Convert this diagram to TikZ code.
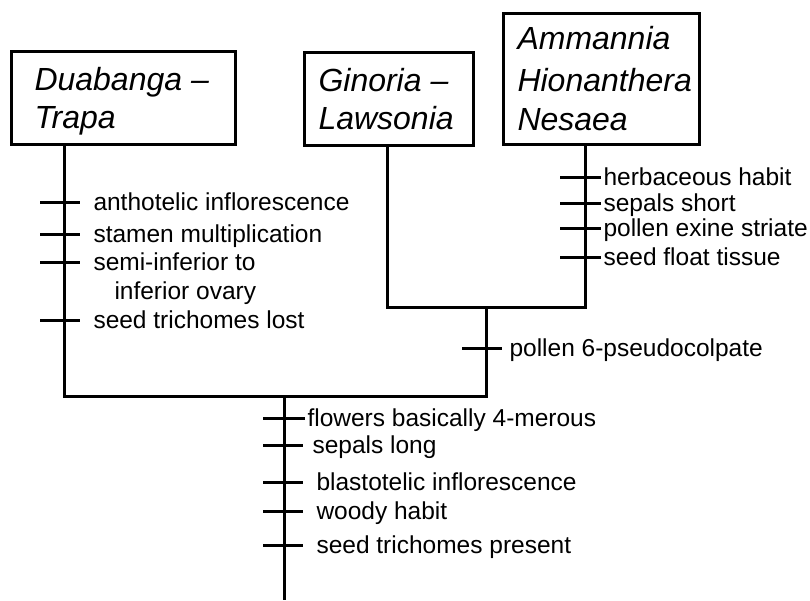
\documentclass[tikz,border=0pt]{standalone}
\usepackage{fontspec}
\setmainfont{Liberation Sans}
\begin{document}
\begin{tikzpicture}[x=1pt,y=-1pt,line width=3pt,
  box/.style={draw,line width=3pt,inner sep=0pt,anchor=north west},
  lab/.style={anchor=base west,inner sep=0pt,font=\fontsize{24.5}{28}\selectfont},
  taxon/.style={anchor=base west,inner sep=0pt,font=\fontsize{32}{38}\selectfont\itshape},
  tick/.style={line width=3pt}]
\useasboundingbox (0,0) rectangle (810,600);
% boxes
\node[box,minimum width=224pt,minimum height=93pt] (dbox) at (10,50) {};
\node[box,minimum width=169pt,minimum height=93pt] (gbox) at (303,51) {};
\node[box,minimum width=196pt,minimum height=131pt] (abox) at (502,12) {};
\node[taxon] (d1) at (33,90) {Duabanga –};
\node[taxon] (d2) at (33,128) {Trapa};
\node[taxon] (g1) at (317,91) {Ginoria –};
\node[taxon] (g2) at (317,129) {Lawsonia};
\node[taxon] (a1) at (516,49) {Ammannia};
\node[taxon] (a2) at (516,91) {Hionanthera};
\node[taxon] (a3) at (516,130) {Nesaea};
% tree
\coordinate (dj) at (64,396);
\coordinate (mj) at (486,396);
\coordinate (mt) at (486,307);
\coordinate (gj) at (387,307);
\coordinate (aj) at (585,307);
\coordinate (rt) at (284,396);
\coordinate (rb) at (284,600);
\draw (dbox.south -| dj) -- (dj) -- (mj) -- (mt);
\draw (gbox.south -| gj) -- (gj) -- (aj) -- (abox.south -| aj);
\draw (rt) -- (rb);
% Duabanga characters
\node[lab] (l1) at (92,210) {anthotelic inflorescence};
\node[lab] (l2) at (92,242) {stamen multiplication};
\node[lab] (l3) at (92,270) {semi-inferior to};
\node[lab] (l3b) at (113,299) {inferior ovary};
\node[lab] (l4) at (92,328) {seed trichomes lost};
\draw[tick] (40,202) -- (80,202);
\draw[tick] (40,234) -- (80,234);
\draw[tick] (40,262) -- (80,262);
\draw[tick] (40,320) -- (80,320);
% Ammannia characters
\node[lab] (r1) at (602,185) {herbaceous habit};
\node[lab] (r2) at (602,211) {sepals short};
\node[lab] (r3) at (602,236) {pollen exine striate};
\node[lab] (r4) at (602,265) {seed float tissue};
\draw[tick] (560,177) -- (601,177);
\draw[tick] (560,203) -- (601,203);
\draw[tick] (560,228) -- (601,228);
\draw[tick] (560,257) -- (601,257);
% pollen
\node[lab] (p1) at (508,356) {pollen 6-pseudocolpate};
\draw[tick] (462,348) -- (502,348);
% root characters
\node[lab] (b1) at (306,426) {flowers basically 4-merous};
\node[lab] (b2) at (311,453) {sepals long};
\node[lab] (b3) at (315,490) {blastotelic inflorescence};
\node[lab] (b4) at (315,519) {woody habit};
\node[lab] (b5) at (315,553) {seed trichomes present};
\draw[tick] (263,418) -- (305,418);
\draw[tick] (263,445) -- (303,445);
\draw[tick] (263,482) -- (303,482);
\draw[tick] (263,511) -- (303,511);
\draw[tick] (263,545) -- (303,545);
\end{tikzpicture}
\end{document}
